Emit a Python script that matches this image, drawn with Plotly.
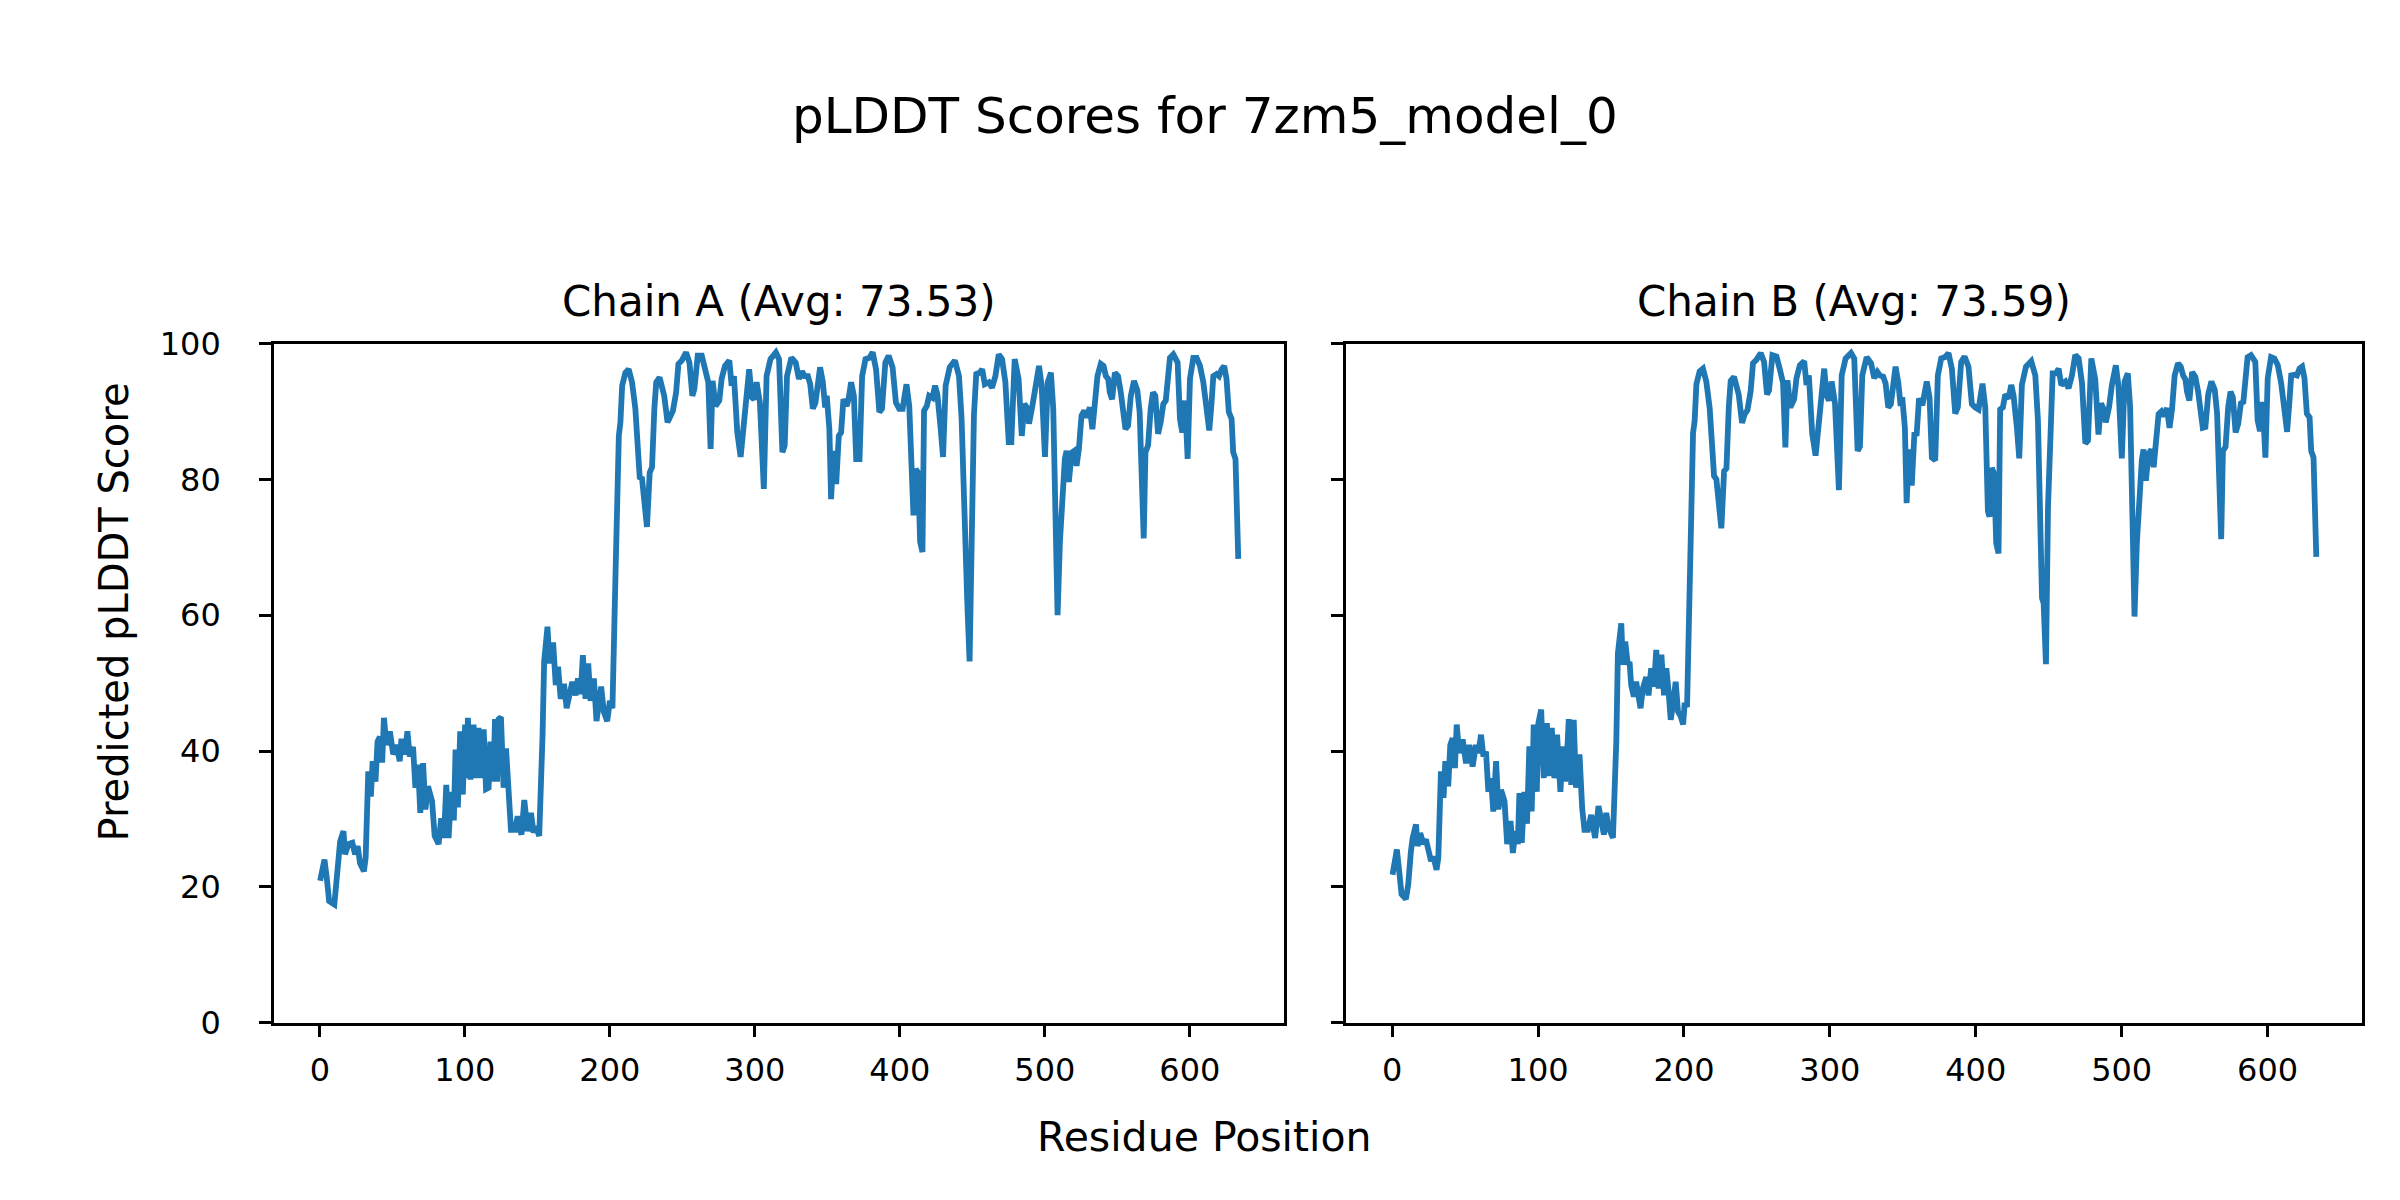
import plotly.graph_objects as go

# ---------------- data ----------------
res_A = [0.2, 3.2, 4.8, 6.4, 10, 12.4, 14, 16.3, 17.4, 19.7, 22.4, 24.3, 26.1, 27.7, 30.4, 31.6, 33.4, 35.2, 36.4, 38.4,
         39.8, 41.4, 43, 44.2, 45.9, 48.3, 50.6, 52.9, 55.1, 56.3, 58.6, 60.4, 62, 64.3, 65.9, 67.7, 69.3, 71.2, 72.8, 74.6,
         77.4, 79.2, 81.9, 83.7, 85.6, 87.2, 88.8, 90.6, 92.4, 93.6, 95.2, 96.8, 98.6, 100.2, 101.4, 102.1, 103.9, 106, 107.8, 109.4,
         111.2, 113, 114.6, 116.4, 117.6, 119.7, 120.8, 122.2, 123.3, 124.9, 126.7, 128.4, 130.2, 131.8, 134.6, 136.4, 137.5, 139.1, 141, 143.3,
         145.6, 147.4, 149, 151.3, 153.6, 154.7, 157, 158.3, 159.7, 161, 162.7, 164.3, 166.1, 168.4, 170.2, 171.8, 174.1, 176.4, 178, 179.9,
         181.4, 183.2, 185.1, 186.7, 189, 190.8, 192.4, 194, 195.8, 198.2, 200, 201.8, 203.9, 205, 206.2, 207.3, 208.5, 210.7, 213, 215.3,
         217.6, 219.2, 220.6, 222.2, 223.8, 225.6, 227.5, 229.1, 230.7, 232, 234.3, 235.9, 237.5, 239.8, 241.6, 243.5, 245.7, 247.3, 249.6, 252.6,
         254.9, 256.9, 258.3, 260.6, 263.4, 265.6, 267.9, 269.5, 270.9, 272.9, 275.5, 277.1, 279.4, 282.4, 284, 285.6, 287.9, 290.2, 292, 294.3,
         296.1, 297.8, 299.4, 301.2, 303.5, 306.2, 308.1, 310.8, 314.5, 316.7, 319, 320.6, 322.2, 325.2, 328.2, 330.4, 332.6, 334.3, 336.6, 338.2,
         340, 341.8, 343.4, 345, 346.9, 348.5, 349.6, 351.4, 352.6, 354.2, 356.1, 357.9, 359.5, 361.1, 363.4, 364.8, 366.4, 368.3, 369.9, 372.2,
         374, 376.3, 379, 381.3, 383.6, 385.9, 387.7, 390, 392.3, 395, 397.3, 399.6, 401.9, 404.6, 406.5, 408.3, 409.4, 411, 412.6, 414,
         415.6, 416.7, 418.6, 420.2, 422.5, 424.3, 425.9, 428.2, 429.8, 431.6, 434.4, 438, 440.8, 442.6, 444.2, 445.4, 446.5, 448.1, 449.5, 451.1,
         452.7, 455, 456.8, 458.6, 461.4, 463.6, 465.9, 468.2, 470.5, 472.8, 475.1, 476.9, 479.2, 481.9, 484.1, 485.9, 487.5, 489.1, 491.4, 493.3,
         496, 497.8, 500.1, 502, 504.2, 505.8, 507.4, 508.8, 510.4, 512, 513.8, 515, 516.6, 518.4, 520.3, 521.9, 523.5, 525.3, 527.2, 529,
         531, 532.8, 534.5, 536.3, 538.6, 540.5, 542.1, 543.7, 544.8, 546.4, 548.3, 550.5, 552.4, 554, 555.6, 557.4, 559.3, 561.5, 563.8, 565.4,
         567, 568.2, 569.4, 571.2, 573, 574.6, 576.2, 578.1, 579.9, 581.7, 583.4, 584.7, 586.3, 588.6, 591.6, 593.2, 594.8, 596.7, 598.5, 600.1,
         602.4, 604.7, 607, 609.3, 611.6, 613.4, 615, 616.2, 618.4, 620.1, 621.9, 623.7, 625.3, 626.9, 628.8, 629.9, 631.5, 633.4]
plddt_A = [20.9, 24.0, 21.3, 17.9, 17.4, 24.3, 26.7, 28.2, 24.8, 26.3, 26.5, 24.8, 26.0, 23.5, 22.3, 24.3, 37.0, 33.3, 38.5, 35.5,
           41.4, 42.1, 38.3, 44.9, 40.9, 42.9, 39.5, 40.9, 38.5, 41.8, 39.5, 42.9, 39.2, 40.6, 34.6, 38.0, 30.9, 38.2, 31.4, 34.8,
           32.6, 27.5, 26.3, 30.1, 27.2, 35.0, 27.2, 34.0, 29.8, 40.2, 31.7, 42.9, 33.6, 43.9, 36.0, 44.9, 35.8, 43.9, 36.0, 43.4,
           36.0, 43.2, 34.4, 34.6, 41.4, 35.5, 44.7, 35.5, 44.7, 45.0, 34.6, 40.4, 32.1, 28.4, 28.4, 30.4, 28.7, 27.7, 32.8, 28.2,
           30.9, 28.0, 28.9, 27.5, 42.4, 53.2, 58.3, 52.9, 55.6, 55.6, 49.7, 52.4, 47.7, 49.9, 46.3, 48.2, 50.2, 48.2, 50.7, 48.4,
           54.1, 47.7, 52.9, 47.4, 50.7, 44.4, 47.2, 49.5, 45.8, 44.4, 47.4, 46.3, 65.9, 80.6, 86.4, 88.4, 93.8, 95.7, 96.2, 94.3,
           90.4, 85.0, 80.3, 80.1, 77.1, 73.0, 81.0, 81.8, 90.4, 94.3, 95.0, 93.8, 92.3, 88.4, 89.4, 90.1, 92.8, 97.0, 97.5, 98.7,
           97.2, 92.3, 93.3, 98.2, 98.2, 96.2, 94.3, 84.5, 94.5, 90.8, 91.6, 94.8, 96.7, 97.5, 93.8, 95.2, 86.9, 83.3, 87.4, 92.8,
           96.2, 92.1, 91.8, 94.3, 91.3, 78.6, 95.2, 97.7, 98.7, 97.7, 84.0, 85.0, 95.2, 97.9, 97.2, 94.8, 95.9, 95.2, 95.2, 94.0,
           90.4, 91.3, 94.8, 96.5, 94.3, 90.6, 92.3, 87.4, 77.1, 84.2, 79.3, 86.4, 86.9, 91.8, 90.8, 92.0, 94.3, 92.3, 83.0, 83.0,
           95.2, 97.7, 97.9, 98.7, 96.2, 89.9, 90.4, 97.2, 98.2, 96.5, 91.3, 90.4, 90.4, 94.0, 90.8, 75.7, 74.7, 81.5, 81.0, 70.8,
           69.3, 90.1, 90.8, 92.3, 92.0, 93.8, 92.5, 87.4, 83.3, 93.8, 96.5, 97.5, 95.2, 88.9, 75.7, 62.9, 62.0, 53.2, 75.7, 89.4,
           95.5, 95.7, 96.2, 94.0, 94.3, 93.5, 95.2, 98.4, 97.7, 94.3, 85.5, 85.5, 97.7, 94.8, 86.4, 91.1, 90.6, 88.2, 90.8, 93.8,
           96.7, 93.8, 83.3, 94.3, 95.7, 90.4, 76.2, 60.0, 70.8, 77.1, 83.0, 84.2, 79.6, 83.9, 84.2, 82.0, 84.5, 89.4, 90.1, 89.1,
           90.6, 87.4, 90.4, 95.2, 97.0, 96.7, 95.2, 94.8, 92.8, 91.8, 95.7, 95.2, 92.8, 90.4, 87.4, 87.9, 92.3, 94.5, 93.1, 89.9,
           79.6, 71.3, 84.0, 85.0, 90.4, 92.8, 92.3, 86.7, 88.4, 91.1, 91.6, 94.8, 97.9, 98.4, 97.2, 88.9, 86.9, 91.6, 83.0, 94.8,
           97.9, 97.9, 96.7, 94.3, 90.4, 87.2, 91.3, 95.2, 95.5, 95.2, 96.2, 96.7, 94.8, 89.9, 88.9, 84.0, 83.0, 68.3]

res_B = [0.2, 3.2, 4.8, 6.4, 9.4, 11, 12.8, 14, 16.3, 17.4, 19.2, 21.5, 23.1, 25, 26.6, 28.2, 30.4, 31.6, 33.4, 35.2,
         36.4, 38.4, 39.8, 41.4, 43, 44.2, 45.9, 48.3, 50.6, 52.9, 55.1, 57.4, 59, 60.9, 62.5, 64.3, 65.9, 67.7, 69.3, 71.2,
         72.8, 74.6, 77, 78.8, 81.1, 82.7, 84.5, 86.1, 87.2, 88.8, 90.6, 92.4, 94, 95.6, 97, 99.1, 100.2, 102.1, 103.9, 106,
         107.8, 109.4, 111.2, 113, 115.3, 116.9, 118.5, 120.3, 121, 122.7, 124.4, 126, 128.4, 130.2, 131.8, 134.1, 136.4, 137.5, 139.1, 141.4,
         143.3, 145.1, 146.7, 148.3, 151.3, 153.6, 154.7, 157, 158.1, 159.7, 161.5, 162.7, 163.8, 165.6, 167.2, 168.8, 170.2, 171.8, 174.1, 175.7,
         177.5, 179.4, 181, 182.6, 184.5, 186.3, 187.9, 189.5, 190.9, 192.5, 194.3, 195.9, 197.8, 199.4, 200.5, 202.1, 203.9, 205, 206.2, 207.3,
         208.5, 210.7, 213, 215.3, 217.6, 219.2, 220.6, 222.2, 223.8, 225.6, 227.5, 229.1, 230.7, 232, 234.3, 235.9, 237.5, 239.8, 241.6, 243.5,
         245.7, 247.3, 249.6, 252.6, 254.9, 256.9, 258.3, 260.6, 263.4, 265.6, 267.9, 269.5, 270.9, 272.9, 275.5, 277.1, 279.4, 282.4, 284, 285.6,
         287.9, 290.2, 292, 294.3, 296.1, 297.8, 299.4, 301.2, 303.5, 306.2, 308.1, 310.8, 314.5, 316.7, 319, 320.6, 322.2, 325.2, 328.2, 330.4,
         332.6, 334.3, 336.6, 338.2, 340, 341.8, 343.4, 345, 346.9, 348.5, 349.6, 351.4, 352.6, 354.2, 356.1, 357.9, 359.5, 361.1, 363.4, 364.8,
         366.4, 368.3, 369.9, 372.2, 374, 376.3, 379, 381.3, 383.6, 385.9, 387.7, 390, 392.3, 395, 397.3, 399.6, 401.9, 404.6, 406.5, 408.3,
         409.4, 411, 412.6, 414, 415.6, 416.7, 418.6, 420.2, 422.5, 424.3, 425.9, 428.2, 429.8, 431.6, 434.4, 438, 440.8, 442.6, 444.2, 445.4,
         446.5, 448.1, 449.5, 451.1, 452.7, 455, 456.8, 458.6, 461.4, 463.6, 465.9, 468.2, 470.5, 472.8, 475.1, 476.9, 479.2, 481.9, 484.1, 485.9,
         487.5, 489.1, 491.4, 493.3, 496, 497.8, 500.1, 502, 504.2, 505.8, 507.4, 508.8, 510.4, 512, 513.8, 515, 516.6, 518.4, 520.3, 521.9,
         523.5, 525.3, 527.2, 529, 531, 532.8, 534.5, 536.3, 538.6, 540.5, 542.1, 543.7, 544.8, 546.4, 548.3, 550.5, 552.4, 554, 555.6, 557.4,
         559.3, 561.5, 563.8, 565.4, 567, 568.2, 569.4, 571.2, 573, 574.6, 576.2, 578.1, 579.9, 581.7, 583.4, 584.7, 586.3, 588.6, 591.6, 593.2,
         594.8, 596.7, 598.5, 600.1, 602.4, 604.7, 607, 609.3, 611.6, 613.4, 615, 616.2, 618.4, 620.1, 621.9, 623.7, 625.3, 626.9, 628.8, 629.9,
         631.5, 633.4]
plddt_B = [21.8, 25.5, 22.3, 18.9, 18.2, 20.4, 25.2, 27.2, 29.2, 26.0, 27.9, 26.3, 27.0, 25.2, 23.8, 24.5, 22.5, 24.3, 37.0, 33.1,
           38.5, 34.8, 40.9, 41.9, 37.5, 43.9, 39.7, 41.7, 38.2, 40.9, 37.7, 40.9, 39.7, 42.4, 39.2, 39.9, 34.0, 36.0, 31.1, 38.5,
           31.4, 34.3, 32.6, 26.3, 29.7, 25.0, 28.2, 26.3, 33.8, 26.5, 34.0, 29.3, 40.7, 31.1, 43.9, 34.0, 44.1, 46.1, 36.0, 44.1,
           36.3, 43.4, 36.0, 42.4, 34.0, 40.7, 35.5, 41.4, 44.7, 35.0, 44.6, 34.6, 39.5, 31.6, 28.4, 28.4, 30.6, 29.1, 27.2, 31.9,
           29.1, 27.7, 30.9, 28.7, 27.2, 41.4, 54.4, 58.8, 52.7, 56.1, 52.7, 53.1, 49.7, 48.0, 50.2, 47.8, 46.3, 49.2, 50.9, 48.2,
           52.2, 49.5, 54.9, 49.2, 54.2, 48.2, 52.2, 48.6, 44.6, 47.0, 50.2, 45.8, 45.1, 43.9, 47.1, 46.5, 66.2, 80.9, 86.8, 88.6,
           94.0, 95.9, 96.3, 94.4, 90.5, 85.2, 80.5, 80.0, 77.3, 72.8, 81.2, 81.6, 90.6, 94.5, 95.1, 93.7, 92.5, 88.3, 89.6, 90.2,
           93.0, 97.1, 97.6, 98.6, 97.3, 92.5, 93.1, 98.3, 98.1, 96.3, 94.2, 84.7, 94.6, 90.6, 91.8, 94.9, 96.8, 97.4, 93.9, 95.3,
           86.7, 83.5, 87.6, 92.9, 96.3, 92.3, 91.6, 94.4, 91.2, 78.4, 95.3, 97.8, 98.6, 97.8, 84.2, 84.8, 95.3, 98.0, 97.1, 94.9,
           95.8, 95.3, 95.1, 94.1, 90.6, 91.1, 94.9, 96.6, 94.2, 90.8, 92.1, 87.6, 76.5, 84.4, 79.1, 86.6, 86.7, 91.9, 90.9, 92.2,
           94.4, 92.1, 83.2, 82.8, 95.3, 97.8, 98.0, 98.6, 96.3, 89.7, 90.6, 97.3, 98.1, 96.6, 91.1, 90.6, 90.3, 94.1, 90.6, 75.3,
           74.5, 81.7, 80.8, 70.6, 69.1, 90.3, 90.6, 92.5, 91.9, 93.9, 92.3, 87.6, 83.1, 93.9, 96.6, 97.4, 95.3, 88.7, 75.5, 62.5,
           61.8, 52.8, 75.9, 89.6, 95.6, 95.6, 96.3, 93.9, 94.4, 93.4, 95.3, 98.3, 97.8, 94.2, 85.3, 85.7, 97.8, 94.7, 86.6, 91.2,
           90.4, 88.4, 90.7, 93.9, 96.8, 93.7, 83.1, 94.4, 95.6, 90.6, 76.0, 59.8, 70.6, 77.3, 82.8, 84.4, 79.8, 83.7, 84.4, 81.8,
           84.7, 89.6, 90.0, 89.3, 90.5, 87.6, 90.3, 95.3, 97.1, 96.6, 95.3, 94.7, 92.9, 91.6, 95.8, 95.1, 92.9, 90.3, 87.6, 87.7,
           92.5, 94.4, 93.2, 89.7, 79.4, 71.2, 84.2, 84.8, 90.6, 92.9, 92.1, 86.9, 88.2, 91.2, 91.4, 94.9, 98.0, 98.3, 97.3, 88.7,
           87.1, 91.4, 83.2, 94.9, 98.0, 97.8, 96.8, 94.2, 90.6, 87.0, 91.5, 95.3, 95.4, 95.3, 96.3, 96.6, 94.9, 89.7, 89.1, 84.2,
           83.2, 68.6]

avg_A = 73.53
avg_B = 73.59
model_name = "7zm5_model_0"
x_ticks = [0, 100, 200, 300, 400, 500, 600]
y_ticks = [0, 20, 40, 60, 80, 100]

# ---------------- figure ----------------
W, H = 2400, 1200
FONT = "DejaVu Sans"
BLUE = "#1f77b4"

fig = go.Figure()
fig.add_trace(go.Scatter(x=res_A, y=plddt_A, mode="lines", line=dict(color=BLUE, width=5.8),
                         xaxis="x", yaxis="y", showlegend=False))
fig.add_trace(go.Scatter(x=res_B, y=plddt_B, mode="lines", line=dict(color=BLUE, width=5.8),
                         xaxis="x2", yaxis="y2", showlegend=False))

xa = dict(range=[-31.67, 664.67], tickvals=x_ticks, ticks="outside", ticklen=12, tickwidth=2.5,
          tickcolor="black", showline=True, linecolor="black", linewidth=2.5, mirror=True,
          showgrid=False, zeroline=False, ticklabelstandoff=5,
          tickfont=dict(family=FONT, size=32, color="black"))
ya = dict(range=[0, 100], tickvals=y_ticks, ticks="outside", ticklen=12, tickwidth=2.5,
          tickcolor="black", showline=True, linecolor="black", linewidth=2.5, mirror=True,
          showgrid=False, zeroline=False, ticklabelstandoff=32,
          tickfont=dict(family=FONT, size=32, color="black"))

ax_A = [0.1108, 0.5315]
ax_B = [0.5575, 0.9808]
y0, y1 = 0.1431, 0.7276
fig.update_layout(
    width=W, height=H,
    margin=dict(l=0, r=0, t=0, b=0),
    paper_bgcolor="white", plot_bgcolor="white",
    font=dict(family=FONT, color="black"),
    xaxis=dict(xa, domain=ax_A, anchor="y"),
    yaxis=dict(ya, domain=[y0, y1], anchor="x"),
    xaxis2=dict(xa, domain=ax_B, anchor="y2"),
    yaxis2=dict(ya, domain=[y0, y1], anchor="x2", showticklabels=False),
    annotations=[
        dict(text=f"pLDDT Scores for {model_name}", x=0.4986, y=0.923, xref="paper", yref="paper",
             showarrow=False, xanchor="center", yanchor="middle", font=dict(family=FONT, size=50)),
        dict(text=f"Chain A (Avg: {avg_A:.2f})", x=sum(ax_A) / 2, y=0.764, xref="paper", yref="paper",
             showarrow=False, xanchor="center", yanchor="middle", font=dict(family=FONT, size=42)),
        dict(text=f"Chain B (Avg: {avg_B:.2f})", x=sum(ax_B) / 2, y=0.764, xref="paper", yref="paper",
             showarrow=False, xanchor="center", yanchor="middle", font=dict(family=FONT, size=42)),
        dict(text="Residue Position", x=0.4986, y=0.0444, xref="paper", yref="paper",
             showarrow=False, xanchor="center", yanchor="middle", font=dict(family=FONT, size=41)),
        dict(text="Predicted pLDDT Score", x=0.044, y=0.4967, xref="paper", yref="paper", textangle=-90,
             showarrow=False, xanchor="center", yanchor="middle", font=dict(family=FONT, size=40)),
    ],
)

fig.write_html("out.html")
